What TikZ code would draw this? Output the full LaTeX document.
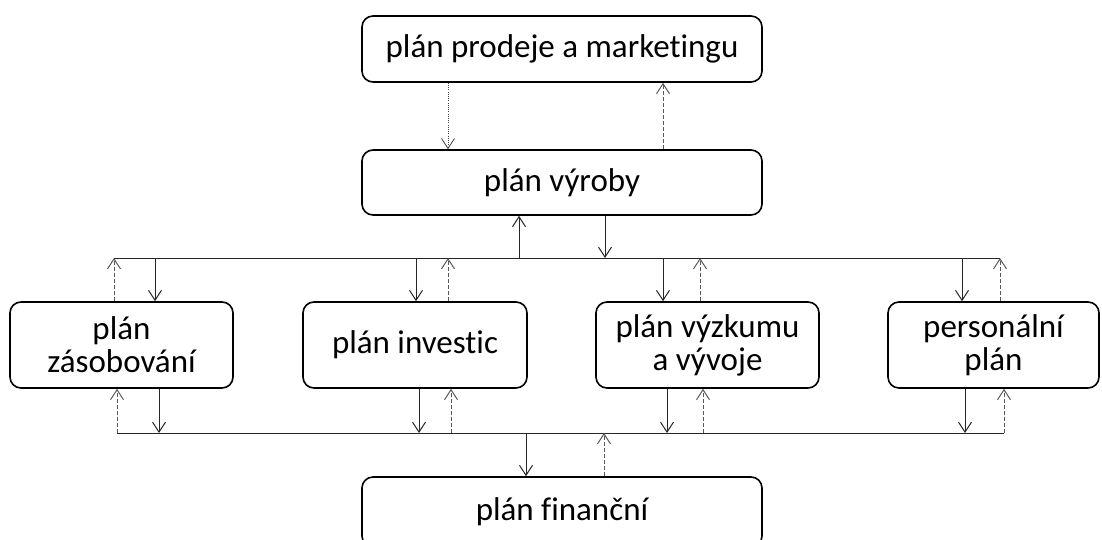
\documentclass[tikz,border=0pt]{standalone}
\usepackage{fontspec}
\setmainfont{Carlito}[Ligatures=NoCommon]
\usetikzlibrary{arrows.meta}
\tikzset{plan/.style={draw=black, line width=1.6pt, rounded corners=11pt, align=center, inner sep=0pt, font=\fontsize{33}{33}\selectfont},
         sol/.style={black!85, line width=1pt},
         das/.style={black!65, line width=1pt, dash pattern=on 4pt off 2pt},
         dot/.style={black!75, line width=0.8pt, dash pattern=on 1pt off 1.2pt},
         >={Straight Barb[length=10pt,width=13pt]}}

\begin{document}
\begin{tikzpicture}[x=1pt,y=-1pt]
   \useasboundingbox (0,0) rectangle (1102,539);
   % boxes
   \node[plan, minimum width=400pt, minimum height=66pt] (mkt) at ( 562.0, 49.0) {plán prodeje a marketingu};
   \node[plan, minimum width=400pt, minimum height=65pt] (vyr) at ( 562.0,182.5) {plán výroby};
   \node[plan, minimum width=223pt, minimum height=86pt] (zas) at ( 121.5,345.0) {plán\\zásobování};
   \node[plan, minimum width=224pt, minimum height=86pt] (inv) at ( 415.0,345.0) {plán investic};
   \node[plan, minimum width=223pt, minimum height=86pt] (vyv) at ( 707.5,345.0) {plán výzkumu\\a vývoje};
   \node[plan, minimum width=211pt, minimum height=86pt] (per) at ( 993.5,345.0) {personální\\plán};
   \node[plan, minimum width=400pt, minimum height=70pt] (fin) at ( 562.0,512.0) {plán finanční};

   % rozvodné linky
   \coordinate (tl) at ( 114,258);
   \coordinate (tr) at (1000,258);
   \coordinate (bl) at ( 117,433);
   \coordinate (br) at (1004,433);
   \draw[sol] (tl) -- (tr);
   \draw[sol] (bl) -- (br);

   % nahore
   \draw[dot,->] (448,0 |- mkt.south) -- (448,0 |- vyr.north);
   \draw[das,->] (663,0 |- vyr.north) -- (663,0 |- mkt.south);
   \draw[sol,->] (519,0 |- tl) -- (519,0 |- vyr.south);
   \draw[sol,->] (605,0 |- vyr.south) -- (605,0 |- tl);

   % horni linka
   \draw[das,->] (tl |- zas.north) -- (tl);
   \draw[sol,->] ( 155,0 |- tl) -- ( 155,0 |- zas.north);
   \draw[sol,->] ( 416,0 |- tl) -- ( 416,0 |- inv.north);
   \draw[das,->] ( 448,0 |- inv.north) -- ( 448,0 |- tl);
   \draw[sol,->] ( 663,0 |- tl) -- ( 663,0 |- vyv.north);
   \draw[das,->] ( 700,0 |- vyv.north) -- ( 700,0 |- tl);
   \draw[sol,->] ( 962,0 |- tl) -- ( 962,0 |- per.north);
   \draw[das,->] (tr |- per.north) -- (tr);

   % dolni linka
   \draw[das,->] (bl) -- (bl |- zas.south);
   \draw[sol,->] ( 159,0 |- zas.south) -- ( 159,0 |- bl);
   \draw[sol,->] ( 419,0 |- inv.south) -- ( 419,0 |- bl);
   \draw[das,->] ( 451,0 |- bl) -- ( 451,0 |- inv.south);
   \draw[sol,->] ( 667,0 |- vyv.south) -- ( 667,0 |- bl);
   \draw[das,->] ( 703,0 |- bl) -- ( 703,0 |- vyv.south);
   \draw[sol,->] ( 965,0 |- per.south) -- ( 965,0 |- bl);
   \draw[das,->] (br) -- (br |- per.south);

   % dole
   \draw[sol,->] (526,0 |- bl) -- (526,0 |- fin.north);
   \draw[das,->] (604,0 |- fin.north) -- (604,0 |- bl);
\end{tikzpicture}
\end{document}
